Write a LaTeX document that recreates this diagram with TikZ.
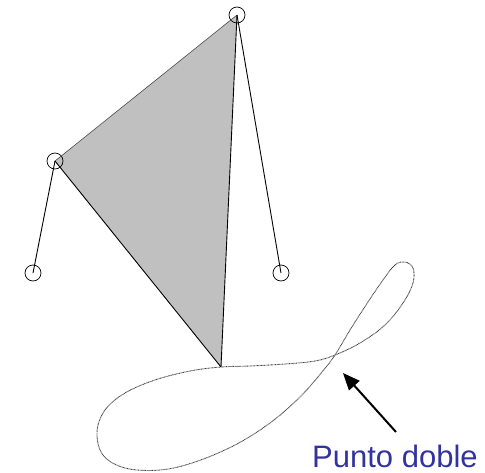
\documentclass[tikz,border=0pt]{standalone}
\usepackage{fontspec}
\setmainfont{Liberation Sans}
\usetikzlibrary{arrows.meta}
\definecolor{sailgray}{HTML}{C0C0C0}
\definecolor{lblblue}{HTML}{3333A0}

\begin{document}
\begin{tikzpicture}[x=1pt, y=-1pt,
    joint/.style={circle, draw, line width=0.7pt, minimum size=16pt, inner sep=0pt},
    bar/.style={line width=0.9pt},
    trace/.style={dash pattern=on 0.8pt off 0.6pt, line width=0.9pt, black!75},
    arr/.style={-{Triangle[length=17pt, width=14pt]}, line width=2pt}
]
\useasboundingbox (0,0) rectangle (485,472);

% sail
\coordinate (foot) at (221,367);
\fill[sailgray] (237,15) -- (55,161) -- (foot) -- cycle;

\node[joint] (top) at (237,15) {};
\node[joint] (left) at (55,161) {};
\node[joint] (lowl) at (33,273) {};
\node[joint] (lowr) at (281,273) {};

\draw[line width=0.6pt, black!70] (top.center) -- (left.center);
\draw[bar] (left.center) -- (foot);
\draw[bar] (foot) -- (top.center);
\draw[bar] (left.center) -- (lowl.center);
\draw[bar] (top.center) -- (lowr.center);

% traced curve
\draw[trace] plot[smooth cycle, tension=0.6] coordinates {
    (221,367) (250,366) (285,364) (315,361) (335,355) (360,343) (385,325)
    (403,303) (413,283) (413,268) (405,262) (395,265) (383,280) (368,302)
    (350,330) (335,355) (322,372) (300,397) (270,423) (235,445) (195,462)
    (160,470) (125,468) (103,455) (97,432) (105,410) (125,393) (155,380)
    (190,371)};

% label
\node[anchor=base west, inner sep=0pt, text=lblblue, font=\fontsize{31}{36}\selectfont]
    (lbl) at (312,467) {Punto doble};
\coordinate (tail) at (396,432);
\coordinate (tip) at (343,373);
\draw[arr] (tail) -- (tip);
\end{tikzpicture}
\end{document}
